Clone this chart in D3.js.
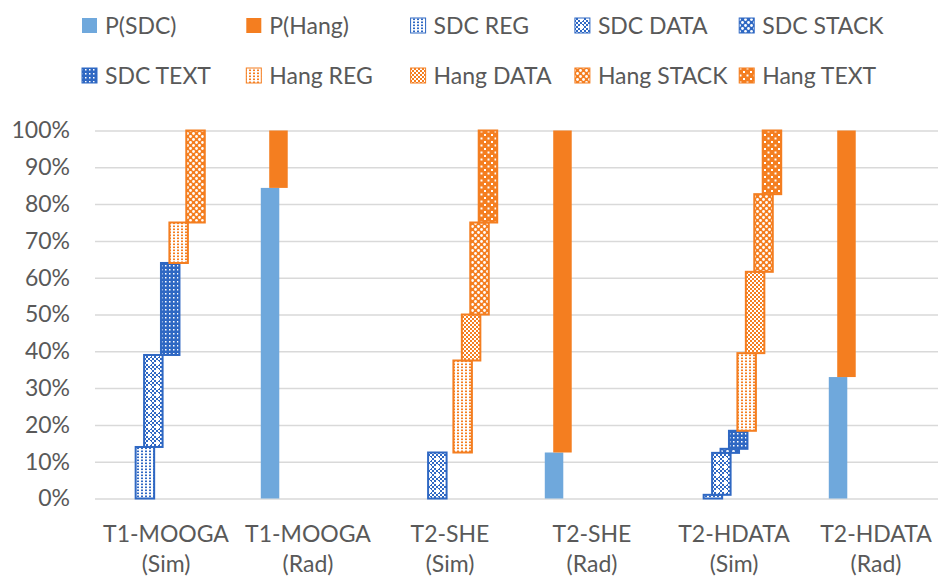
<!DOCTYPE html>
<html>
<head>
<meta charset="utf-8">
<script src="https://cdn.jsdelivr.net/npm/d3@7"></script>
<style>
  html, body { margin: 0; padding: 0; background: #fff; }
  svg { display: block; }
  text { font-family: Lato, "Open Sans", sans-serif; fill: #595959; }
</style>
</head>
<body>
<svg id="chart" width="938" height="581"></svg>
<script>
// ---------- data (percent of outcomes) ----------
const categories = ["T1-MOOGA (Sim)", "T1-MOOGA (Rad)", "T2-SHE (Sim)", "T2-SHE (Rad)", "T2-HDATA (Sim)", "T2-HDATA (Rad)"];
const seriesNames = ["P(SDC)", "P(Hang)", "SDC REG", "SDC DATA", "SDC STACK", "SDC TEXT", "Hang REG", "Hang DATA", "Hang STACK", "Hang TEXT"];
const pSDC      = [0, 84.4, 0, 12.5, 0, 33];
const pHang     = [0, 15.6, 0, 87.5, 0, 67];
const sdcReg    = [14, 0, 0, 0, 1, 0];
const sdcData   = [25, 0, 12.5, 0, 11.4, 0];
const sdcStack  = [0, 0, 0, 0, 1.1, 0];
const sdcText   = [25, 0, 0, 0, 4.9, 0];
const hangReg   = [11, 0, 25, 0, 21.1, 0];
const hangData  = [0, 0, 12.5, 0, 22.1, 0];
const hangStack = [25, 0, 25, 0, 21.1, 0];
const hangText  = [0, 0, 25, 0, 17.3, 0];
const yTickValues = [0, 10, 20, 30, 40, 50, 60, 70, 80, 90, 100];

const seriesValues = [pSDC, pHang, sdcReg, sdcData, sdcStack, sdcText, hangReg, hangData, hangStack, hangText];

// ---------- styles ----------
const BLUE_LIGHT = "#6FA8DC";
const ORANGE = "#F47E20";
const BLUE_PAT = "#2F68C3";
const FS = 23;
const seriesStyle = {
  "P(SDC)":     {color: BLUE_LIGHT, pattern: null},
  "P(Hang)":    {color: ORANGE, pattern: null},
  "SDC REG":    {color: BLUE_PAT, pattern: "reg"},
  "SDC DATA":   {color: BLUE_PAT, pattern: "dataStar"},
  "SDC STACK":  {color: BLUE_PAT, pattern: "stack"},
  "SDC TEXT":   {color: BLUE_PAT, pattern: "textDense"},
  "Hang REG":   {color: ORANGE, pattern: "reg"},
  "Hang DATA":  {color: ORANGE, pattern: "data"},
  "Hang STACK": {color: ORANGE, pattern: "stack"},
  "Hang TEXT":  {color: ORANGE, pattern: "textSparse"}
};

const svg = d3.select("#chart");
const defs = svg.append("defs");

function makePattern(id, kind, color) {
  let p;
  if (kind === "reg") {
    p = defs.append("pattern").attr("id", id).attr("patternUnits", "userSpaceOnUse").attr("width", 4).attr("height", 3);
    p.append("rect").attr("width", 4).attr("height", 3).attr("fill", "#fff");
    p.append("rect").attr("x", 1).attr("y", 0.5).attr("width", 2).attr("height", 1.6).attr("fill", color);
  } else if (kind === "data") {
    p = defs.append("pattern").attr("id", id).attr("patternUnits", "userSpaceOnUse").attr("width", 4).attr("height", 4);
    p.append("rect").attr("width", 4).attr("height", 4).attr("fill", color);
    p.append("rect").attr("x", 0).attr("y", 0).attr("width", 2).attr("height", 2).attr("fill", "#fff");
    p.append("rect").attr("x", 2).attr("y", 2).attr("width", 2).attr("height", 2).attr("fill", "#fff");
  } else if (kind === "dataStar") {
    p = defs.append("pattern").attr("id", id).attr("patternUnits", "userSpaceOnUse").attr("width", 8).attr("height", 8);
    p.append("rect").attr("width", 8).attr("height", 8).attr("fill", color);
    [[0,0],[2,2],[4,0],[6,2],[0,4],[2,6],[4,4],[6,6]].forEach(([x, y]) =>
      p.append("rect").attr("x", x).attr("y", y).attr("width", 2).attr("height", 2).attr("fill", "#fff"));
    p.append("rect").attr("x", 5).attr("y", 1).attr("width", 2).attr("height", 4).attr("fill", "#fff");
    p.append("rect").attr("x", 4).attr("y", 2).attr("width", 4).attr("height", 2).attr("fill", "#fff");
  } else if (kind === "stack") {
    p = defs.append("pattern").attr("id", id).attr("patternUnits", "userSpaceOnUse").attr("width", 6).attr("height", 6);
    p.append("rect").attr("width", 6).attr("height", 6).attr("fill", color);
    p.append("circle").attr("cx", 1.5).attr("cy", 1.5).attr("r", 1.4).attr("fill", "#fff");
    p.append("circle").attr("cx", 4.5).attr("cy", 4.5).attr("r", 1.4).attr("fill", "#fff");
  } else if (kind === "textDense") {
    p = defs.append("pattern").attr("id", id).attr("patternUnits", "userSpaceOnUse").attr("width", 4).attr("height", 4);
    p.append("rect").attr("width", 4).attr("height", 4).attr("fill", color);
    p.append("rect").attr("x", 1).attr("y", 1).attr("width", 1.5).attr("height", 1.5).attr("fill", "#fff");
  } else if (kind === "textSparse") {
    p = defs.append("pattern").attr("id", id).attr("patternUnits", "userSpaceOnUse").attr("width", 7).attr("height", 7);
    p.append("rect").attr("width", 7).attr("height", 7).attr("fill", color);
    p.append("rect").attr("x", 1).attr("y", 1).attr("width", 2).attr("height", 2).attr("fill", "#fff");
    p.append("rect").attr("x", 4.5).attr("y", 4.5).attr("width", 2).attr("height", 2).attr("fill", "#fff");
  }
}
seriesNames.forEach((s, i) => {
  const st = seriesStyle[s];
  if (st.pattern) { st.id = "pat" + i; makePattern(st.id, st.pattern, st.color); }
});
function fillOf(s) { const st = seriesStyle[s]; return st.pattern ? `url(#${st.id})` : st.color; }

// ---------- scales ----------
const plotLeft = 95, plotRight = 947, plotTop = 130.5, plotBottom = 498.5;
const x = d3.scaleBand().domain(categories).range([plotLeft, plotRight]).padding(0);
const y = d3.scaleLinear().domain([0, 100]).range([plotBottom, plotTop]);
const barW = 18.5;
const groupW = x.bandwidth() * 0.665;
const xs = d3.scalePoint().domain(seriesNames).range([-(groupW - barW) / 2, (groupW - barW) / 2]);

// ---------- grid + y axis ----------
const yAxis = d3.axisLeft(y).tickValues(yTickValues).tickFormat(d => d + "%")
  .tickSize(-(plotRight - plotLeft)).tickPadding(25);
const gy = svg.append("g").attr("transform", `translate(${plotLeft},0)`).call(yAxis);
gy.select(".domain").remove();
gy.selectAll(".tick line").attr("stroke", "#D9D9D9").attr("stroke-width", 1.5);
gy.selectAll(".tick text").attr("font-size", FS).attr("fill", "#595959").attr("font-family", "Lato, sans-serif");

// ---------- x axis ----------
const xAxis = d3.axisBottom(x).tickSize(0).tickPadding(0).tickFormat("");
const gx = svg.append("g").attr("transform", `translate(0,${plotBottom})`).call(xAxis);
gx.select(".domain").remove();
gx.selectAll(".tick").each(function(d) {
  const parts = d.split(" ");
  const t = d3.select(this).append("text").attr("text-anchor", "middle")
    .attr("font-size", FS).attr("fill", "#595959");
  t.append("tspan").attr("x", 0).attr("y", 43.5).text(parts[0]);
  t.append("tspan").attr("x", 0).attr("y", 73.5).text(parts[1]);
});

// ---------- bars ----------
const rows = categories.map((c, ci) => {
  const r = {category: c};
  seriesNames.forEach((s, si) => r[s] = seriesValues[si][ci]);
  return r;
});
const stacked = d3.stack().keys(seriesNames)(rows);

const gBars = svg.append("g");
stacked.forEach(layer => {
  const s = layer.key;
  const st = seriesStyle[s];
  gBars.append("g").selectAll("rect")
    .data(layer.filter(d => d[1] - d[0] > 0))
    .join("rect")
    .attr("x", d => x(d.data.category) + x.bandwidth() / 2 + xs(s) - barW / 2)
    .attr("y", d => y(d[1]))
    .attr("width", barW)
    .attr("height", d => y(d[0]) - y(d[1]))
    .attr("fill", fillOf(s))
    .attr("stroke", st.pattern ? st.color : "none")
    .attr("stroke-width", st.pattern ? 2 : 0);
});

// ---------- legend ----------
const legend = svg.append("g");
seriesNames.forEach((s, i) => {
  const col = i % 5, row = Math.floor(i / 5);
  const lx = 82 + col * 164.3, ly = 18 + row * 50;
  const st = seriesStyle[s];
  legend.append("rect").attr("x", lx).attr("y", ly).attr("width", 15).attr("height", 15)
    .attr("fill", fillOf(s))
    .attr("stroke", st.pattern ? st.color : "none").attr("stroke-width", st.pattern ? 1 : 0);
  legend.append("text").attr("x", lx + 23).attr("y", ly + 7.5).attr("dy", "0.36em")
    .attr("font-size", FS).attr("fill", "#595959").text(s);
});
</script>
</body>
</html>
